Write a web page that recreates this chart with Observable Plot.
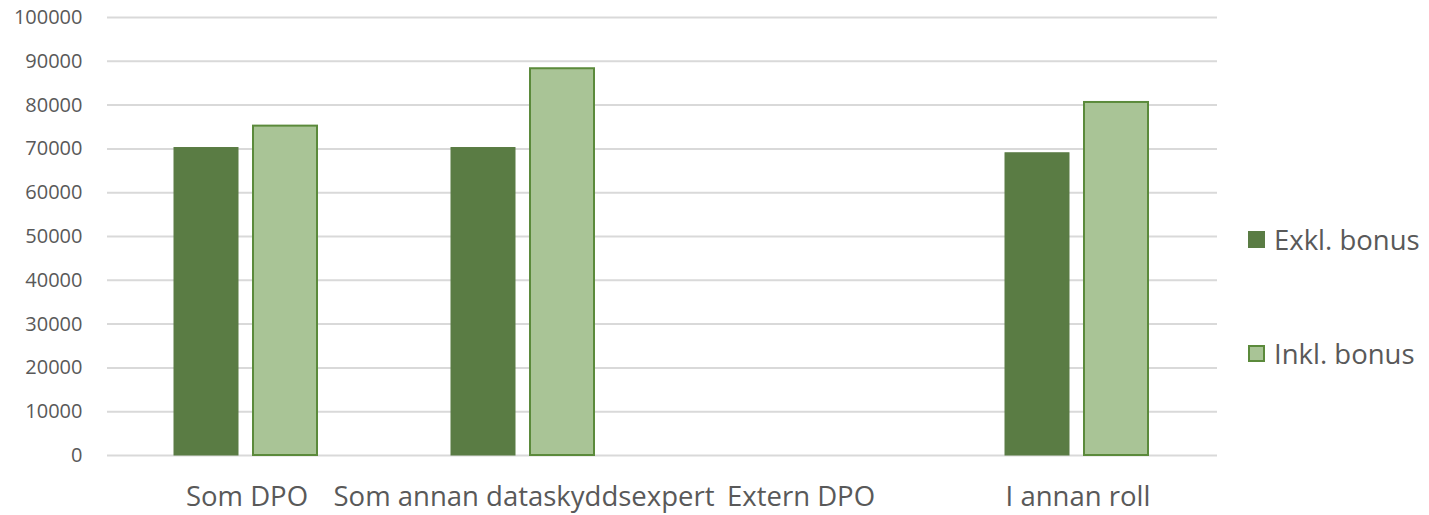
<!DOCTYPE html>
<html>
<head>
<meta charset="utf-8">
<script src="https://cdn.jsdelivr.net/npm/d3@7"></script>
<script src="https://cdn.jsdelivr.net/npm/@observablehq/plot@0.6"></script>
<style>
  body { margin: 0; background: #fff; }
  #wrap { position: relative; width: 1429px; height: 515px; font-family: "Open Sans", sans-serif; }
  .leg { position: absolute; left: 1248px; display: flex; align-items: center; font-size: 27.5px; color: #595959; white-space: nowrap; }
  .sw { width: 17px; height: 17px; margin-right: 9px; box-sizing: border-box; }
</style>
</head>
<body>
<div id="wrap"></div>
<script>
const categories = ["Som DPO", "Som annan dataskyddsexpert", "Extern DPO", "I annan roll"];
const exklBonus = [70200, 70200, null, 69000];
const inklBonus = [75200, 88300, null, 80600];
const yTicks = [0, 10000, 20000, 30000, 40000, 50000, 60000, 70000, 80000, 90000, 100000];
const seriesNames = ["Exkl. bonus", "Inkl. bonus"];

const darkFill = "#5a7c44";
const lightFill = "#a9c496";
const lightStroke = "#5b8a3b";

const exklData = categories.map((c, i) => ({category: c, value: exklBonus[i]})).filter(d => d.value != null);
const inklData = categories.map((c, i) => ({category: c, value: inklBonus[i]})).filter(d => d.value != null);

const chart = Plot.plot({
  width: 1429,
  height: 515,
  marginLeft: 107,
  marginRight: 212,
  marginTop: 17,
  marginBottom: 60,
  style: {fontFamily: "Open Sans, sans-serif", color: "#595959", background: "#fff"},
  x: {domain: categories, padding: 0, axis: null},
  y: {domain: [0, 100000], axis: null},
  marks: [
    Plot.ruleY(yTicks, {stroke: "#d9d9d9", strokeWidth: 2}),
    Plot.barY(exklData, {x: "category", y: "value", fill: darkFill, stroke: darkFill, strokeWidth: 1, insetLeft: 66, insetRight: 147}),
    Plot.barY(inklData, {x: "category", y: "value", fill: lightFill, stroke: lightStroke, strokeWidth: 2, insetLeft: 145, insetRight: 68}),
    Plot.axisY({ticks: yTicks, tickFormat: d => String(d), tickSize: 0, tickPadding: 25, fontSize: 20, label: null}),
    Plot.axisX({domain: categories, tickSize: 0, tickPadding: 31, fontSize: 27.5, label: null})
  ]
});

const wrap = document.getElementById("wrap");
wrap.appendChild(chart);

const legendItems = [
  {name: seriesNames[0], fill: darkFill, stroke: darkFill, top: 221},
  {name: seriesNames[1], fill: lightFill, stroke: lightStroke, top: 335}
];
for (const it of legendItems) {
  const d = document.createElement("div");
  d.className = "leg";
  d.style.top = it.top + "px";
  const sw = document.createElement("div");
  sw.className = "sw";
  sw.style.background = it.fill;
  sw.style.border = "2px solid " + it.stroke;
  const t = document.createElement("span");
  t.textContent = it.name;
  d.appendChild(sw);
  d.appendChild(t);
  wrap.appendChild(d);
}
</script>
</body>
</html>
